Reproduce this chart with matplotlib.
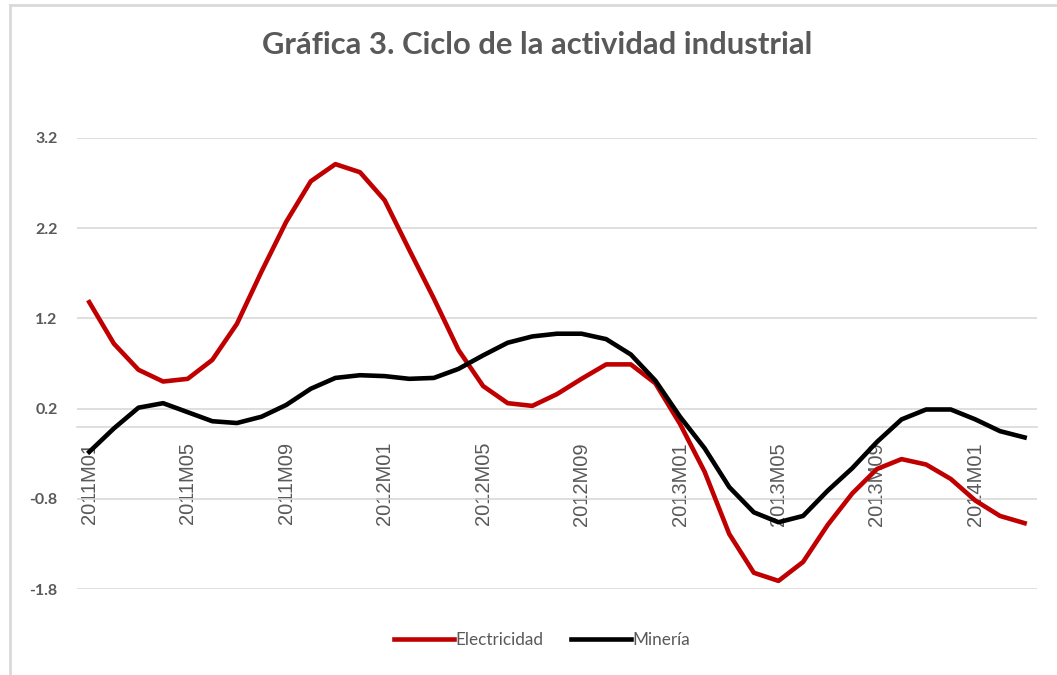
import matplotlib
matplotlib.use("Agg")
import matplotlib.pyplot as plt
from matplotlib.lines import Line2D

# months 2011M01 .. 2014M03
years = [2011, 2012, 2013, 2014]
periods = ["%dM%02d" % (y, m) for y in years for m in range(1, 13)][:39]

electricidad = [1.38, 0.92, 0.63, 0.50, 0.53, 0.74, 1.14, 1.72, 2.27, 2.72,
                2.91, 2.82, 2.51, 1.96, 1.42, 0.85, 0.45, 0.26, 0.23, 0.36,
                0.53, 0.69, 0.69, 0.48, 0.03, -0.50, -1.19, -1.62, -1.71, -1.50,
                -1.09, -0.74, -0.47, -0.36, -0.42, -0.58, -0.82, -0.99, -1.07]
mineria = [-0.28, -0.02, 0.21, 0.26, 0.16, 0.06, 0.04, 0.11, 0.24, 0.42,
           0.54, 0.57, 0.56, 0.53, 0.54, 0.64, 0.79, 0.93, 1.00, 1.03,
           1.03, 0.97, 0.80, 0.51, 0.11, -0.24, -0.67, -0.95, -1.06, -0.99,
           -0.71, -0.46, -0.17, 0.08, 0.19, 0.19, 0.08, -0.05, -0.12]

yticks = [3.2, 2.2, 1.2, 0.2, -0.8, -1.8]

gray = "#595959"
gridColor = "#d9d9d9"

fig = plt.figure(figsize=(10.57, 6.75), dpi=100)
ax = fig.add_axes([0.0728, 0.1274, 0.9082, 0.6682])

# axis line through zero (set first: it resets the ticks)
for s in ["top", "right", "left"]:
    ax.spines[s].set_visible(False)
ax.spines["bottom"].set_position(("data", 0))
ax.spines["bottom"].set_color(gridColor)
ax.spines["bottom"].set_linewidth(1.2)

x = list(range(len(periods)))
ax.plot(x, electricidad, color="#c00000", lw=3.3, solid_joinstyle="round", zorder=3)
ax.plot(x, mineria, color="black", lw=3.3, solid_joinstyle="round", zorder=3)

ax.set_xlim(-0.5, len(periods) - 0.5)
ax.set_ylim(-1.8, 3.2)
ax.set_yticks(yticks)
ax.set_yticklabels(["%.1f" % v for v in yticks], fontsize=11.5, fontweight="bold",
                   color=gray, family="Lato")
ax.grid(axis="y", color=gridColor, lw=1.2)
ax.set_axisbelow(True)

ax.set_xticks(x[::4])
ax.set_xticklabels(periods[::4], rotation=90, fontsize=14.5, color=gray,
                   family="Liberation Sans", va="top", ha="center")

ax.tick_params(axis="both", length=0)
ax.tick_params(axis="x", pad=11)
ax.tick_params(axis="y", pad=14)

fig.text(0.508, 0.933, "Gráfica 3. Ciclo de la actividad industrial", ha="center",
         va="center", fontsize=22.3, fontweight="bold", color=gray, family="Lato")

handles = [Line2D([], [], color="#c00000", lw=3.3),
           Line2D([], [], color="black", lw=3.3)]
fig.legend(handles, ["Electricidad", "Minería"], loc="center",
           bbox_to_anchor=(0.513, 0.052), ncol=2, frameon=False,
           prop={"family": "Lato", "size": 12.3}, labelcolor=gray,
           handlelength=3.5, handletextpad=0.1, columnspacing=1.6)

# outer frame
fig.add_artist(Line2D([0.0095, 0.0095], [0.0, 0.993], transform=fig.transFigure,
                      color=gridColor, lw=2))
fig.add_artist(Line2D([0.0095, 1.0], [0.993, 0.993], transform=fig.transFigure,
                      color=gridColor, lw=2))

fig.savefig("out.png", dpi=100)
